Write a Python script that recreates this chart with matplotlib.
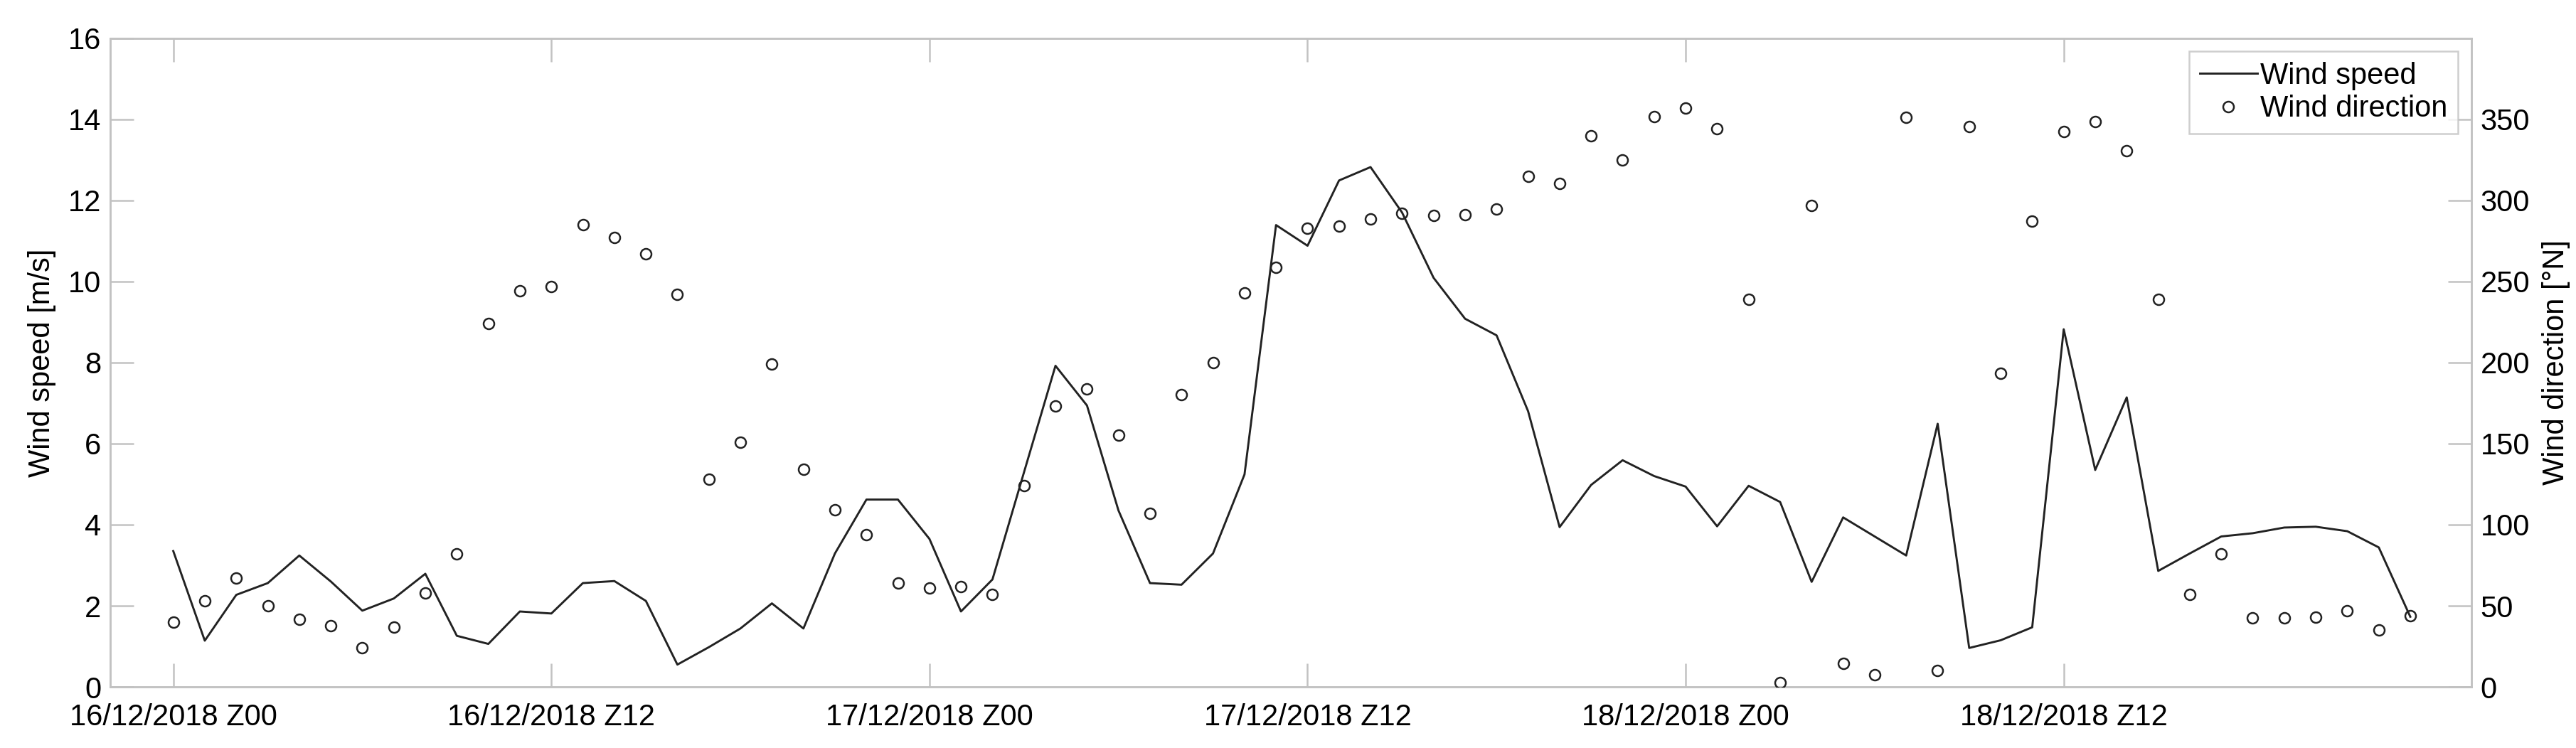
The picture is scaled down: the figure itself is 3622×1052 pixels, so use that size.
import matplotlib
matplotlib.use("Agg")
import matplotlib.pyplot as plt
from matplotlib.lines import Line2D
import pandas as pd

plt.rcParams['font.family'] = ['Liberation Sans', 'DejaVu Sans']

# ---- data (hourly, starting 16/12/2018 00 UTC) ----
start = pd.Timestamp('2018-12-16 00:00')
n_hours = 72
times = pd.date_range(start, periods=n_hours, freq='h')

wind_speed = [3.35, 1.14, 2.27, 2.56, 3.24, 2.60, 1.88, 2.18, 2.79, 1.26,
              1.06, 1.86, 1.81, 2.56, 2.61, 2.12, 0.55, 0.98, 1.44, 2.06,
              1.44, 3.29, 4.62, 4.62, 3.65, 1.86, 2.65, 5.29, 7.92, 6.94,
              4.35, 2.56, 2.52, 3.29, 5.24, 11.39, 10.88, 12.49, 12.82, 11.70,
              10.09, 9.08, 8.67, 6.80, 3.94, 4.98, 5.59, 5.20, 4.94, 3.96,
              4.96, 4.56, 2.59, 4.18, 3.71, 3.24, 6.49, 0.96, 1.15, 1.47,
              8.82, 5.35, 7.14, 2.86, 3.29, 3.71, 3.79, 3.93, 3.95, 3.84,
              3.44, 1.73]

wind_direction = [39.7, 53, 67, 50, 41.5, 37.6, 24, 36.8, 58, 82,
                  224, 244, 247, 285, 277, 267, 242, 128, 151, 199,
                  134, 109, 94, 64, 61, 62, 57, 124, 173, 183.5,
                  155, 107, 180, 200, 243, 258.5, 283, 284, 288.5, 292,
                  290.6, 291, 294.7, 315, 310.6, 340, 325, 351.5, 356.8, 344,
                  239, 2.6, 297, 14.4, 7.6, 351, 10.3, 345.6, 193.5, 287,
                  342.6, 348.5, 330.6, 239, 56.8, 82, 42.6, 42.6, 43.2, 46.8,
                  35.3, 44]

tick_hours = [0, 12, 24, 36, 48, 60]
speed_ticks = [0, 2, 4, 6, 8, 10, 12, 14, 16]
dir_ticks = [0, 50, 100, 150, 200, 250, 300, 350]

# ---- figure ----
fig = plt.figure(figsize=(3622/300, 1052/300), dpi=300)
ax = fig.add_axes([0.0428, 0.0817, 0.9594 - 0.0428, 0.949 - 0.0817])
ax2 = ax.twinx()

axis_gray = '#c2c2c2'
line_col = '#222222'

ax.plot(times, wind_speed, color=line_col, lw=0.7, zorder=3)
ax2.plot(times, wind_direction, linestyle='none', marker='o', ms=3.6,
         mfc='none', mec=line_col, mew=0.6, zorder=3)

ax.set_ylim(0, 16)
ax2.set_ylim(0, 400)
ax.set_yticks(speed_ticks)
ax2.set_yticks(dir_ticks)

x0 = start - pd.Timedelta(hours=2)
x1 = start + pd.Timedelta(hours=72.94)
ax.set_xlim(x0, x1)
xt = [start + pd.Timedelta(hours=h) for h in tick_hours]
ax.set_xticks(xt)
ax.set_xticklabels([t.strftime('%d/%m/%Y Z%H') for t in xt])

for a in (ax, ax2):
    for s in a.spines.values():
        s.set_color(axis_gray)
        s.set_linewidth(0.6)
    a.tick_params(colors=axis_gray, labelcolor='black', labelsize=10,
                  direction='in', length=8, width=0.6, pad=3)

ax.tick_params(axis='x', top=True, bottom=True, pad=5.5)
ax.tick_params(axis='y', left=True, right=False)
ax2.tick_params(axis='y', right=True, left=False)

ax.set_ylabel('Wind speed [m/s]', fontsize=10, labelpad=4)
ax2.set_ylabel('Wind direction [\u00b0N]', fontsize=10, labelpad=4)

handles = [Line2D([], [], color=line_col, lw=0.7),
           Line2D([], [], linestyle='none', marker='o', ms=3.6, mfc='none',
                  mec=line_col, mew=0.6)]
leg = ax2.legend(handles, ['Wind speed', 'Wind direction'], loc='upper right',
                 fontsize=10, frameon=True, fancybox=False, handlelength=1.95,
                 handletextpad=0.1, labelspacing=0.15, borderpad=0.35,
                 borderaxespad=0.45)
leg.get_frame().set_edgecolor(axis_gray)
leg.get_frame().set_linewidth(0.6)

fig.savefig('out.png', dpi=300)
